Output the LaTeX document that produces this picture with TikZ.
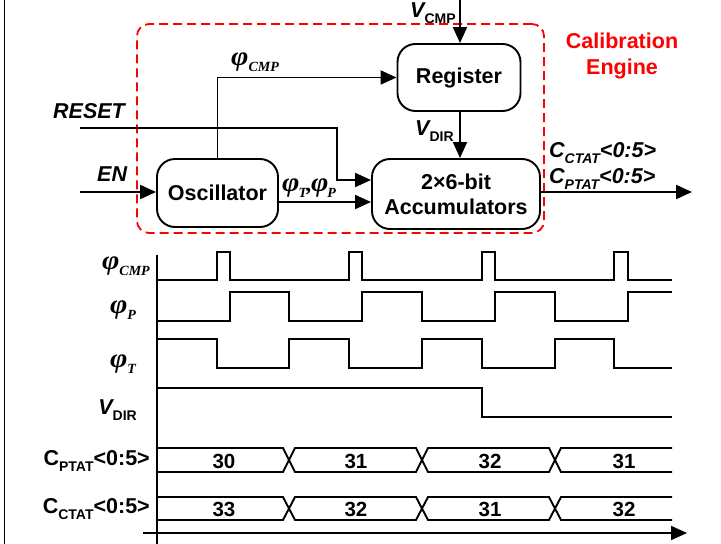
\documentclass[tikz,border=0pt]{standalone}
\usepackage{fontspec}
\setmainfont{Liberation Sans}
\newfontfamily\serifphi{Liberation Serif}
\usetikzlibrary{arrows.meta,calc}
\newcommand\lowsub[1]{\raisebox{-0.3em}{\fontsize{14}{14}\selectfont #1}}
\newcommand\phiG{{\serifphi\bfseries\itshape\fontsize{27}{27}\selectfont\scalebox{1.1}[1]{φ}}}
\newcommand\phisub[1]{{\serifphi\bfseries\itshape\lowsub{#1}}}
\tikzset{
  blk/.style={draw, line width=1.9pt, rounded corners=18pt, font=\fontsize{21.5}{25}\selectfont\bfseries, align=center, inner sep=0pt},
  engbox/.style={draw=red, dashed, dash pattern=on 9pt off 5pt, line width=1.8pt, rounded corners=12pt, inner sep=0pt},
  arr/.style={line width=1.9pt, -{Triangle[length=16pt,width=14pt]}},
  wire/.style={line width=1.9pt},
  lab/.style={font=\fontsize{21.5}{25}\selectfont\bfseries\itshape, inner sep=0pt},
  tlab/.style={font=\fontsize{21.5}{25}\selectfont\bfseries, inner sep=0pt},
  val/.style={font=\fontsize{20.5}{24}\selectfont\bfseries, inner sep=0pt},
  sig/.style={line width=1.9pt, line join=miter},
}
\begin{document}
\begin{tikzpicture}[x=1pt,y=-1pt]
\useasboundingbox (0,0) rectangle (721,544);
\draw[line width=1.4pt] (4.5,0) -- (4.5,544);
% ---- block diagram ----
\node[engbox, minimum width=407pt, minimum height=209pt] (eng) at (340.5,128.5) {};
\node[font=\fontsize{21.5}{26}\selectfont\bfseries, text=red, align=center, inner sep=0pt] (engl) at (622,56) {Calibration\\Engine};
\node[blk, minimum width=121pt, minimum height=68pt] (osc) at (217.5,193) {Oscillator};
\node[blk, minimum width=123pt, minimum height=67pt] (reg) at (459,77.5) {Register};
\node[blk, minimum width=168pt, minimum height=70pt] (acc) at (456,194) {2×6-bit\\Accumulators};
\coordinate (vcmp) at (460,0);
\coordinate (rst) at (80,128);
\coordinate (en) at (80,192);
\coordinate (out) at (692,192);
\draw[arr] (vcmp) -- (vcmp |- reg.north);
\draw[arr] (osc.north) |- (reg.west);
\draw[arr] (rst) -- (337,128) |- ($(acc.west)+(0,-14)$);
\draw[arr] (en) -- (en -| osc.west);
\draw[arr] ($(osc.east)+(0,9)$) -- ($(acc.west)+(0,8)$);
\draw[arr] (reg.south -| vcmp) -- (acc.north -| vcmp);
\draw[arr] (acc.east |- out) -- (out);
\node[lab, anchor=west] (lcmp) at (231,62) {\phiG\phisub{CMP}};
\node[lab, anchor=west] (lrst) at (53,111) {RESET};
\node[lab, anchor=west] (len) at (97,174) {EN};
\node[lab, anchor=west] (ltp) at (282,188) {\phiG\kern-1pt\phisub{T}\kern-0.5pt{\serifphi\bfseries\itshape\fontsize{22}{22}\selectfont ,}\kern-1pt\phiG\kern-1pt\phisub{P}};
\node[lab, anchor=west] (lvcmp) at (410,13) {V{\upshape\lowsub{CMP}}};
\node[lab, anchor=west] (lvdir) at (415,131) {V{\upshape\lowsub{DIR}}};
\node[lab, anchor=west] (lcc) at (549,153) {C\lowsub{CTAT}<0:5>};
\node[lab, anchor=west] (lcp) at (549,179) {C\lowsub{PTAT}<0:5>};
% ---- timing diagram ----
\draw[wire] (157,255) -- (157,544);
\draw[arr] (143,533) -- (687,533);
% phi_CMP
\draw[sig] (157,280) -- (217,280) -- (217,252) -- (230,252) -- (230,280) -- (349,280) -- (349,252) -- (362,252) -- (362,280) -- (482,280) -- (482,252) -- (495,252) -- (495,280) -- (614,280) -- (614,252) -- (628,252) -- (628,280) -- (672,280);
% phi_P
\draw[sig] (157,321) -| (230,292) -| (289,321) -| (362,292) -| (422,321) -| (495,292) -| (555,321) -| (628,292) -- (672,292);
% phi_T
\draw[sig] (157,339) -| (217,368) -| (289,339) -| (349,368) -| (422,339) -| (482,368) -| (555,339) -| (614,368) -- (672,368);
% V_DIR
\draw[sig] (157,388) -| (482,417) -- (672,417);
% C_PTAT bus
\draw[sig] (157,448) -- (283,448) -- (295,472) -- (416,472) -- (428,448) -- (549,448) -- (561,472) -- (672,472);
\draw[sig] (157,472) -- (283,472) -- (295,448) -- (416,448) -- (428,472) -- (549,472) -- (561,448) -- (672,448);
% C_CTAT bus
\draw[sig] (157,497) -- (283,497) -- (295,520) -- (416,520) -- (428,497) -- (549,497) -- (561,520) -- (672,520);
\draw[sig] (157,520) -- (283,520) -- (295,497) -- (416,497) -- (428,520) -- (549,520) -- (561,497) -- (672,497);
\node[val] (p1) at (224,461) {30};
\node[val] (p2) at (356,461) {31};
\node[val] (p3) at (490,461) {32};
\node[val] (p4) at (624,461) {31};
\node[val] (c1) at (224,509) {33};
\node[val] (c2) at (356,509) {32};
\node[val] (c3) at (490,509) {31};
\node[val] (c4) at (624,509) {32};
% labels
\node[lab, anchor=east] (tcmp) at (150,266) {\phiG\phisub{CMP}};
\node[lab] (tp) at (123,310) {\phiG\phisub{P}};
\node[lab] (tt) at (123,364) {\phiG\phisub{T}};
\node[lab, anchor=east] (tvdir) at (137,410) {V{\upshape\lowsub{DIR}}};
\node[tlab, anchor=east] (tcp) at (150,461) {C\lowsub{PTAT}<0:5>};
\node[tlab, anchor=east] (tcc) at (150,509) {C\lowsub{CTAT}<0:5>};
\end{tikzpicture}
\end{document}
